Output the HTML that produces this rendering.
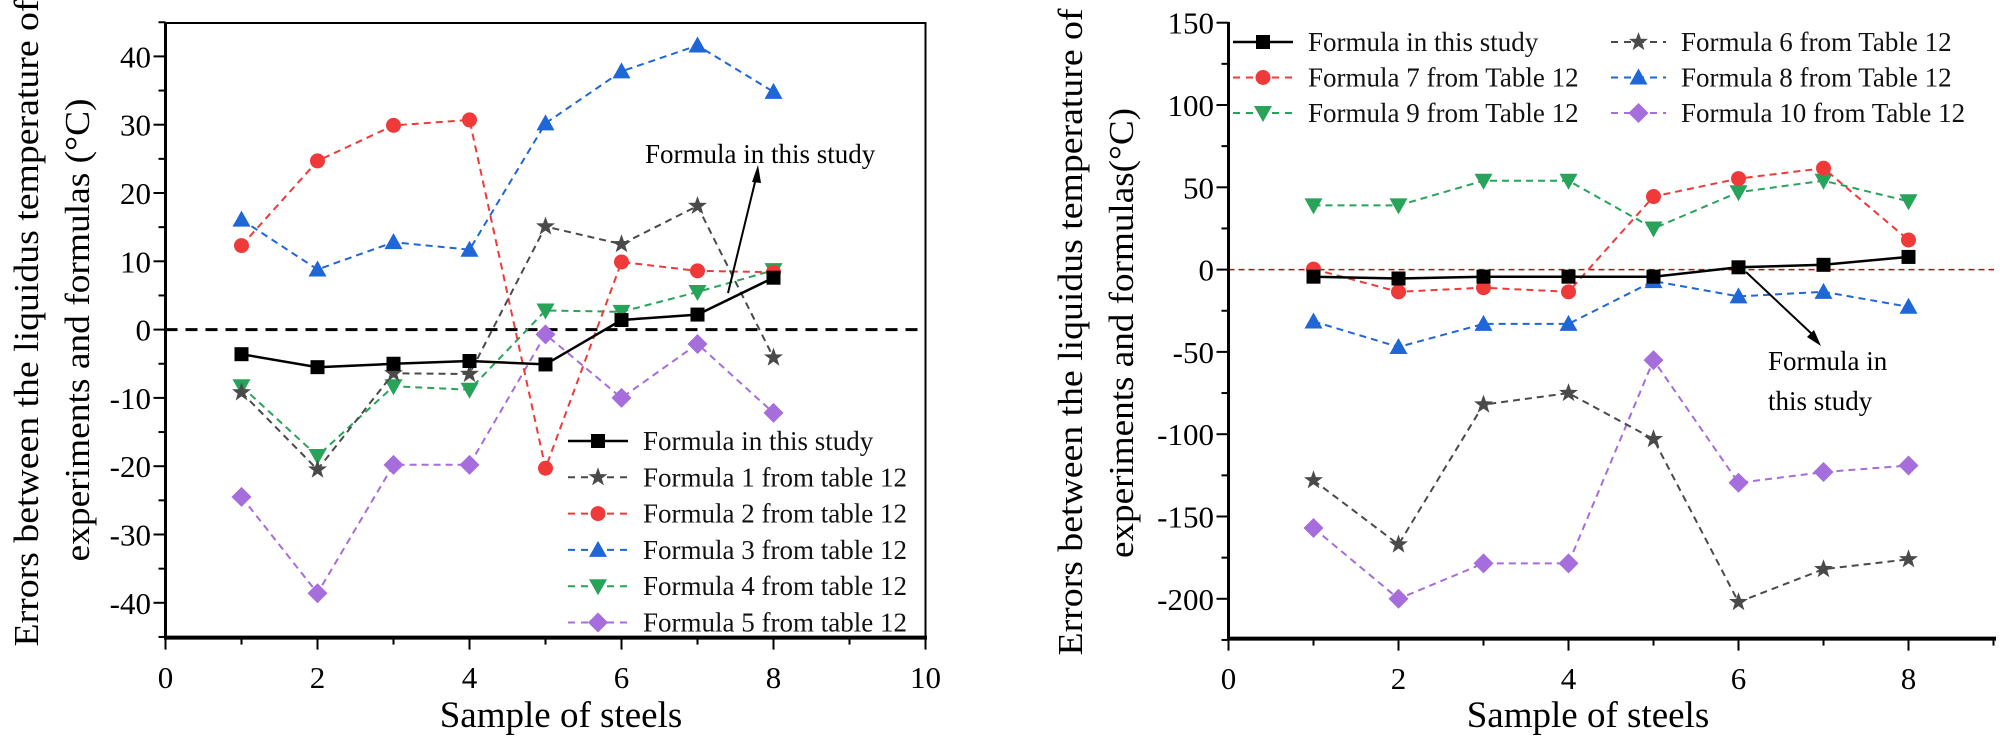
<!DOCTYPE html>
<html><head><meta charset="utf-8">
<style>
html,body{margin:0;padding:0;background:#fff;}
svg{display:block;font-family:"Liberation Serif",serif;}
svg text{font-family:"Liberation Serif",serif;}
</style></head>
<body>
<svg id="c" width="2000" height="738" viewBox="0 0 2000 738" xmlns="http://www.w3.org/2000/svg" font-family="Liberation Serif, serif"></svg>
<script>
// ---- Left chart data ----
const samplesL = [1,2,3,4,5,6,7,8];
const leftThisStudy = [-3.6,-5.5,-5.0,-4.6,-5.1,1.4,2.2,7.6];
const leftF1 = [-9.2,-20.5,-6.4,-6.5,15.1,12.5,18.1,-4.1];
const leftF2 = [12.3,24.7,29.9,30.7,-20.3,9.9,8.6,8.4];
const leftF3 = [16.1,8.8,12.8,11.7,30.2,37.8,41.6,34.8];
const leftF4 = [-8.3,-18.5,-8.3,-8.8,2.8,2.6,5.5,8.7];
const leftF5 = [-24.5,-38.6,-19.8,-19.8,-0.7,-10.0,-2.1,-12.2];
const leftXTicks = [0,2,4,6,8,10];
const leftYTicks = [-40,-30,-20,-10,0,10,20,30,40];
const leftLegend = ["Formula in this study","Formula 1 from table 12","Formula 2 from table 12","Formula 3 from table 12","Formula 4 from table 12","Formula 5 from table 12"];
// ---- Right chart data ----
const samplesR = [1,2,3,4,5,6,7,8];
const rightThisStudy = [-4.3,-5.4,-4.3,-4.3,-4.3,1.4,2.9,7.7];
const rightF6 = [-128,-167,-82,-75,-103,-202,-182,-176];
const rightF7 = [0.3,-13.5,-11,-13.5,44.4,55.3,61.6,18];
const rightF8 = [-31.5,-47,-33,-33,-7,-16.3,-13.5,-22.6];
const rightF9 = [39,39,54,54,25,47,54,41.5];
const rightF10 = [-157,-200,-178.5,-178.5,-55,-129.5,-123,-119];
const rightXTicks = [0,2,4,6,8];
const rightYTicks = [-200,-150,-100,-50,0,50,100,150];
const rightLegend = ["Formula in this study","Formula 6 from Table 12","Formula 7 from Table 12","Formula 8 from Table 12","Formula 9 from Table 12","Formula 10 from Table 12"];

const NS="http://www.w3.org/2000/svg";
const svg=document.getElementById('c');
function mk(tag,attrs,parent){const e=document.createElementNS(NS,tag);for(const k in attrs)e.setAttribute(k,attrs[k]);if(tag==='text')e.setAttribute('font-family','Liberation Serif, serif');(parent||svg).appendChild(e);return e;}

// axis functions
const Lx=v=>165.5+v*76, Ly=v=>329.6-v*6.83;
const Rx=v=>1228.5+v*85.0, Ry=v=>269.6-v*1.646;

function marker(g,type,x,y,color){
  let e;
  if(type==='square'){e=mk('rect',{x:x-7,y:y-7,width:14,height:14,fill:color},g);}
  else if(type==='circle'){e=mk('circle',{cx:x,cy:y,r:7.5,fill:color},g);}
  else if(type==='up'){e=mk('polygon',{points:`${x},${y-9} ${x+9},${y+7} ${x-9},${y+7}`,fill:color},g);}
  else if(type==='down'){e=mk('polygon',{points:`${x-9},${y-7} ${x+9},${y-7} ${x},${y+9}`,fill:color},g);}
  else if(type==='diamond'){e=mk('polygon',{points:`${x},${y-10} ${x+10},${y} ${x},${y+10} ${x-10},${y}`,fill:color},g);}
  else if(type==='star'){let p=[];for(let i=0;i<10;i++){const r=i%2?4:10;const a=-Math.PI/2+i*Math.PI/5;p.push((x+r*Math.cos(a)).toFixed(1)+','+(y+r*Math.sin(a)).toFixed(1));}e=mk('polygon',{points:p.join(' '),fill:color},g);}
  return e;
}

function series(name,xs,ys,fx,fy,color,type,dashed){
  const g=mk('g',{});
  
  
  const pts=xs.map((v,i)=>fx(v).toFixed(1)+','+fy(ys[i]).toFixed(1)).join(' ');
  const l=mk('polyline',{points:pts,fill:'none',stroke:color,'stroke-width':dashed?2:2.5,'stroke-dasharray':dashed?'7,5':'none'},g);
  
  
  xs.forEach((v,i)=>{const m=marker(g,type,fx(v),fy(ys[i]),color);
    
    });
}

function legendEntry(x,y,text,color,type,dashed,len){
  const g=mk('g',{});
  
  
  mk('line',{x1:x,y1:y,x2:x+len,y2:y,stroke:color,'stroke-width':dashed?2:2.5,'stroke-dasharray':dashed?'7,6':'none'},g);
  marker(g,type,x+len/2,y,color);
  const t=mk('text',{x:x+len+15,y:y+9,'font-size':27,fill:'#111'},g);t.textContent=text;
}

const GRAY='#4a4a4a',RED='#f03a3a',BLUE='#1f66d6',GREEN='#27a35a',PURP='#a66ddc',BLK='#000';

// ===== LEFT CHART =====
const zl=mk('line',{x1:165.5,y1:Ly(0),x2:925.5,y2:Ly(0),stroke:'#000','stroke-width':3,'stroke-dasharray':'12,8'});


series('left-formula-5',samplesL,leftF5,Lx,Ly,PURP,'diamond',true);
series('left-formula-4',samplesL,leftF4,Lx,Ly,GREEN,'down',true);
series('left-formula-3',samplesL,leftF3,Lx,Ly,BLUE,'up',true);
series('left-formula-2',samplesL,leftF2,Lx,Ly,RED,'circle',true);
series('left-formula-1',samplesL,leftF1,Lx,Ly,GRAY,'star',true);
series('left-this-study',samplesL,leftThisStudy,Lx,Ly,BLK,'square',false);
const lf=mk('rect',{x:165.5,y:23,width:760,height:614.6,fill:'none',stroke:'#000','stroke-width':2});


mk('line',{x1:164,y1:637.6,x2:927,y2:637.6,stroke:'#000','stroke-width':4});
mk('line',{x1:165.5,y1:23,x2:165.5,y2:639,stroke:'#000','stroke-width':3});
for(let v=0;v<=10;v++){mk('line',{x1:Lx(v),y1:637.6,x2:Lx(v),y2:637.6+(v%2?7:12),stroke:'#000','stroke-width':2});}
leftXTicks.forEach(v=>{const t=mk('text',{x:Lx(v),y:688,'font-size':31,'text-anchor':'middle'});t.textContent=v;
  });
for(let v=-45;v<=45;v+=5){mk('line',{x1:165.5,y1:Ly(v),x2:165.5-(v%10?7:12),y2:Ly(v),stroke:'#000','stroke-width':2});}
leftYTicks.forEach(v=>{const t=mk('text',{x:151,y:Ly(v)+11,'font-size':31,'text-anchor':'end'});t.textContent=v;
  });
let t=mk('text',{x:561,y:727,'font-size':37,'text-anchor':'middle'});t.textContent='Sample of steels';

t=mk('text',{x:0,y:0,'font-size':35,'text-anchor':'middle',transform:'translate(38,323) rotate(-90)',textLength:647,lengthAdjust:'spacingAndGlyphs'});
t.textContent='Errors between the liquidus temperature of';

t=mk('text',{x:0,y:0,'font-size':35,'text-anchor':'middle',transform:'translate(89,330) rotate(-90)',textLength:463,lengthAdjust:'spacingAndGlyphs'});
t.textContent='experiments and formulas (°C)';

t=mk('text',{x:645,y:163,'font-size':27});t.textContent='Formula in this study';

mk('line',{x1:728,y1:293,x2:756,y2:178,stroke:'#000','stroke-width':2});
mk('polygon',{points:'758,165 752,182 761,183',fill:'#000'});
const lcols=[[BLK,'square',false],[GRAY,'star',true],[RED,'circle',true],[BLUE,'up',true],[GREEN,'down',true],[PURP,'diamond',true]];
leftLegend.forEach((s,i)=>legendEntry(568,441+i*36.3,s,lcols[i][0],lcols[i][1],lcols[i][2],60));

// ===== RIGHT CHART =====
const zr=mk('line',{x1:1228.5,y1:Ry(0),x2:1994,y2:Ry(0),stroke:'#b01515','stroke-width':1.5,'stroke-dasharray':'6,4'});


series('right-formula-10',samplesR,rightF10,Rx,Ry,PURP,'diamond',true);
series('right-formula-9',samplesR,rightF9,Rx,Ry,GREEN,'down',true);
series('right-formula-8',samplesR,rightF8,Rx,Ry,BLUE,'up',true);
series('right-formula-7',samplesR,rightF7,Rx,Ry,RED,'circle',true);
series('right-formula-6',samplesR,rightF6,Rx,Ry,GRAY,'star',true);
series('right-this-study',samplesR,rightThisStudy,Rx,Ry,BLK,'square',false);
mk('line',{x1:1227,y1:638.6,x2:1996,y2:638.6,stroke:'#000','stroke-width':4});
mk('line',{x1:1228.5,y1:22,x2:1228.5,y2:640,stroke:'#000','stroke-width':3});
for(let v=0;v<=9;v++){mk('line',{x1:Rx(v),y1:638.6,x2:Rx(v),y2:638.6+(v%2?7:12),stroke:'#000','stroke-width':2});}
rightXTicks.forEach(v=>{const t=mk('text',{x:Rx(v),y:689,'font-size':31,'text-anchor':'middle'});t.textContent=v;
  });
for(let v=-225;v<=150;v+=25){mk('line',{x1:1228.5,y1:Ry(v),x2:1228.5-(v%50?7:12),y2:Ry(v),stroke:'#000','stroke-width':2});}
rightYTicks.forEach(v=>{const t=mk('text',{x:1214,y:Ry(v)+11,'font-size':31,'text-anchor':'end'});t.textContent=v;
  });
t=mk('text',{x:1588,y:727,'font-size':37,'text-anchor':'middle'});t.textContent='Sample of steels';

t=mk('text',{x:0,y:0,'font-size':35,'text-anchor':'middle',transform:'translate(1082,332) rotate(-90)',textLength:647,lengthAdjust:'spacingAndGlyphs'});
t.textContent='Errors between the liquidus temperature of';

t=mk('text',{x:0,y:0,'font-size':35,'text-anchor':'middle',transform:'translate(1133,333) rotate(-90)',textLength:450,lengthAdjust:'spacingAndGlyphs'});
t.textContent='experiments and formulas(°C)';

mk('line',{x1:1746,y1:272,x2:1813,y2:335,stroke:'#000','stroke-width':2});
mk('polygon',{points:'1821,346 1807,337 1814,330',fill:'#000'});
t=mk('text',{x:1768,y:370,'font-size':27});t.textContent='Formula in';

t=mk('text',{x:1768,y:410,'font-size':27});t.textContent='this study';

const rcols=[[BLK,'square',false],[GRAY,'star',true],[RED,'circle',true],[BLUE,'up',true],[GREEN,'down',true],[PURP,'diamond',true]];
rightLegend.forEach((s,i)=>{const col=i%2,row=Math.floor(i/2);
  legendEntry(col?1611:1233,42+row*35.5,s,rcols[i][0],rcols[i][1],rcols[i][2],col?55:60);});
</script>
</body></html>
